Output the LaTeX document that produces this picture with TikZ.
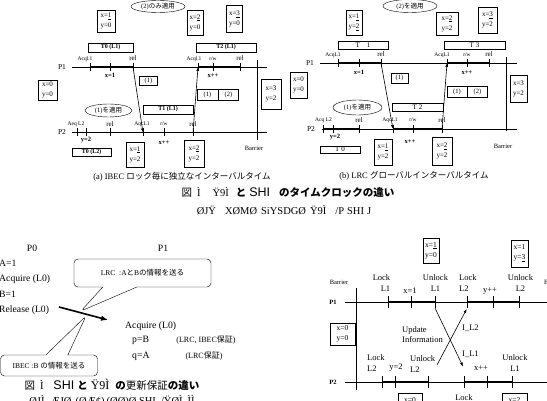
\documentclass[tikz,border=0pt]{standalone}
\usepackage{fontspec}
\setmainfont{Liberation Serif}
\newfontfamily\jp{Noto Sans CJK JP}
\newfontfamily\gsans{Liberation Sans}
\usetikzlibrary{arrows.meta,shapes.geometric,shapes.callouts}
\tikzset{
  vbox/.style={draw, align=center, inner sep=1pt, font=\fontsize{7}{10}\selectfont},
  tbox/.style={draw, inner sep=0pt, font=\bfseries\fontsize{6}{7}\selectfont},
  tboxb/.style={draw, inner sep=0pt, font=\fontsize{7}{7}\selectfont},
  sbox/.style={draw, inner sep=0pt, font=\fontsize{6.5}{7}\selectfont},
  oval/.style={draw, ellipse, inner sep=0pt, font=\fontsize{6.5}{7}\selectfont},
  lbl/.style={font=\fontsize{5.5}{6}\selectfont, inner sep=0pt},
  blbl/.style={font=\bfseries\fontsize{6.5}{7}\selectfont, inner sep=0pt},
  pname/.style={font=\fontsize{7.5}{8}\selectfont, inner sep=0pt},
  subcap/.style={font=\fontsize{8.5}{9}\selectfont, inner sep=0pt},
  figcap/.style={font=\fontsize{10.5}{11}\selectfont, inner sep=0pt},
  ptxt/.style={font=\fontsize{9.7}{11}\selectfont, inner sep=0pt},
  ntxt/.style={font=\fontsize{8}{9}\selectfont, inner sep=0pt},
  rlbl/.style={font=\fontsize{8.5}{10.5}\selectfont, inner sep=0pt},
  rbox/.style={draw, align=center, inner sep=1pt, font=\fontsize{7.5}{10}\selectfont},
  axisline/.style={line width=0.5pt},
  seg/.style={line width=1.4pt},
  tk/.style={line width=0.6pt},
  msg/.style={line width=0.6pt, -{Latex[length=4pt,width=3pt]}},
  bigarrow/.style={line width=1.6pt, -{Latex[length=7pt,width=5.5pt]}},
  callbox/.style={rectangle callout, draw, rounded corners=4pt, inner sep=0pt, line width=0.4pt},
}
\newcommand\tmark[4]{\coordinate (#1) at (#2,#3); \draw[tk] (#1) ++(0,-#4) -- ++(0,2*#4);}
\begin{document}
\begin{tikzpicture}[x=1pt,y=-1pt]
\useasboundingbox (0,0) rectangle (547,401);
\clip (0,0) rectangle (547,401);
\fill[white] (0,0) rectangle (547,401);

% ================= Panel (a) =================
\node[oval, minimum width=54, minimum height=12] (aov2) at (158,6.5) {(2)\jp のみ適用};
\node[vbox, minimum width=18, minimum height=22] (ab1) at (106,21) {x=\underline{1}\\y=0};
\node[vbox, minimum width=16, minimum height=25] (ab2) at (195,22.5) {x=\underline{2}\\y=0};
\node[vbox, minimum width=16, minimum height=27] (ab3) at (234.5,19) {x=\underline{3}\\y=0};
\node[tbox, minimum width=45, minimum height=9] (aT0) at (110.5,47.5) {T0 (L1)};
\node[tbox, minimum width=60, minimum height=9] (aT2) at (226,47.5) {T2 (L1)};

\draw[axisline] (72,67) -- (267,67);
\draw[seg] (90,67) -- (133,67);
\draw[seg] (198,67) -- (240,67);
\tmark{a1acq}{90}{67}{4} \tmark{a1x}{110}{67}{4} \tmark{a1rel}{133}{67}{4}
\tmark{a1acqb}{198}{67}{4} \tmark{a1rw}{213}{67}{4} \tmark{a1relb}{240}{67}{4}
\node[pname] (aP1) at (62,67) {P1};
\node[lbl] (la1) at (85,59) {Acql.1};
\node[lbl] (la2) at (133,58.5) {\fontsize{7}{7}\selectfont rel};
\node[lbl] (la3) at (194,59) {Acql.1};
\node[lbl] (la4) at (213,59) {r/w};
\node[lbl] (la5) at (240,58.5) {\fontsize{7}{7}\selectfont rel};
\node[blbl] (ax1) at (110,75.5) {x=1};
\node[blbl] (axpp) at (213,76) {x++};

\node[vbox, minimum width=19, minimum height=20] (ab00) at (47.5,90) {x=0\\y=0};
\node[sbox, minimum width=18, minimum height=9] (a1b) at (148.5,81) {(1)};
\node[sbox, minimum width=21, minimum height=11] (a12l) at (207.5,94.5) {(1)};
\node[sbox, minimum width=20, minimum height=11, anchor=west] (a12r) at (a12l.east) {(2)};
\node[vbox, minimum width=20, minimum height=30] (ab32) at (271,94) {x=3\\y=2};
\node[oval, minimum width=47, minimum height=13] (aov1) at (108.5,110.5) {(1)\jp を適用};
\node[tbox, minimum width=50, minimum height=9] (aT1) at (168,109.5) {T1 (L1)};

\draw[axisline] (72,132.5) -- (267,132.5);
\draw[seg] (77,132.5) -- (110,132.5);
\draw[seg] (143,132.5) -- (193,132.5);
\tmark{a2acq0}{77}{132.5}{4} \tmark{a2y}{86}{132.5}{4} \tmark{a2rel0}{110}{132.5}{4}
\tmark{a2acq}{143}{132.5}{4} \tmark{a2rw}{164}{132.5}{4} \tmark{a2relb}{193}{132.5}{4}
\node[pname] (aP2) at (62,132.5) {P2};
\node[lbl] (lb1) at (76,124) {Aeq L2};
\node[lbl] (lb2) at (110,124) {\fontsize{7}{7}\selectfont rel};
\node[lbl] (lb3) at (142,124) {AqcL1};
\node[lbl] (lb4) at (164,124) {r/w};
\node[lbl] (lb5) at (193,124) {\fontsize{7}{7}\selectfont rel};
\node[blbl] (ay2) at (86,140) {y=2};
\node[blbl] (axpp2) at (164,143) {x++};
\node[tbox, minimum width=39, minimum height=8] (aT0b) at (91.5,152) {T0 (L2)};
\node[vbox, minimum width=18, minimum height=25] (ab12) at (135,154.5) {x=\underline{1}\\y=2};
\node[vbox, minimum width=20, minimum height=27] (ab22) at (194,153.5) {x=\underline{2}\\y=2};

\coordinate (abarT) at (257,60); \coordinate (abarB) at (257,140);
\draw[axisline] (abarT) -- (abarB);
\node[lbl, font=\fontsize{6.5}{7}\selectfont] (abar) at (254,148) {Barrier};

\draw[msg] (a1rel) -- (a2acq);
\draw[msg] (a2relb) -- (a1acqb);

\node[subcap] (capa) at (182,177) {(a) IBEC {\jp ロック毎に独立なインターバルタイム}};

% ================= Panel (b) =================
\node[oval, minimum width=54, minimum height=13] (bov2) at (410,6) {(2)\jp を適用};
\node[vbox, minimum width=16, minimum height=25] (bb1) at (354,22.5) {x=\underline{1}\\y=\underline{2}};
\node[vbox, minimum width=22, minimum height=23] (bb2) at (447,23.5) {x=\underline{2}\\y=2};
\node[vbox, minimum width=19, minimum height=26] (bb3) at (487.5,20) {x=\underline{3}\\y=2};
\node[tboxb, minimum width=50, minimum height=8] (bT1) at (363,45) {T\quad 1};
\node[tboxb, minimum width=61, minimum height=8] (bT3) at (474.5,45) {T\ 3};

\draw[axisline] (320,63) -- (517,63);
\draw[seg] (338,63) -- (381,63);
\draw[seg] (447,63) -- (489,63);
\tmark{b1acq}{338}{63}{4} \tmark{b1x}{359}{63}{4} \tmark{b1rel}{381}{63}{4}
\tmark{b1acqb}{447}{63}{4} \tmark{b1rw}{467}{63}{4} \tmark{b1relb}{489}{63}{4}
\node[pname] (bP1) at (310,63) {P1};
\node[lbl] (lc1) at (333,55) {AcqL1};
\node[lbl] (lc2) at (381,54.5) {\fontsize{7}{7}\selectfont rel};
\node[lbl] (lc3) at (442,55) {AcqL1};
\node[lbl] (lc4) at (467,55) {r/w};
\node[lbl] (lc5) at (489,54.5) {\fontsize{7}{7}\selectfont rel};
\node[blbl] (bx1) at (359,72) {x=1};
\node[blbl] (bxpp) at (467,73) {x++};

\node[vbox, minimum width=17, minimum height=26] (bb00) at (298.5,85) {x=0\\y=0};
\node[sbox, minimum width=17, minimum height=10] (b1b) at (399.5,78) {(1)};
\node[sbox, minimum width=20, minimum height=11] (b12l) at (457,91.5) {(1)};
\node[sbox, minimum width=20, minimum height=11, anchor=west] (b12r) at (b12l.east) {(2)};
\node[vbox, minimum width=17, minimum height=27] (bb32) at (518.5,88.5) {x=3\\y=2};
\node[oval, minimum width=49, minimum height=15] (bov1) at (357.5,107.5) {(1)\jp を適用};
\node[tboxb, minimum width=51, minimum height=8] (bT2) at (417.5,107) {T 2};

\draw[axisline] (322,129) -- (517,129);
\draw[seg] (323,129) -- (359,129);
\draw[seg] (393,129) -- (442,129);
\tmark{b2acq0}{323}{129}{4} \tmark{b2y}{333}{129}{4} \tmark{b2rel0}{359}{129}{4}
\tmark{b2acq}{393}{129}{4} \tmark{b2rw}{413}{129}{4} \tmark{b2relb}{442}{129}{4}
\node[pname] (bP2) at (311,129) {P2};
\node[lbl] (ld1) at (323.5,120) {Acq L2};
\node[lbl] (ld2) at (359,120) {\fontsize{7}{7}\selectfont rel};
\node[lbl] (ld3) at (390,120) {AqcL1};
\node[lbl] (ld4) at (413,120) {r/w};
\node[lbl] (ld5) at (442,120) {\fontsize{7}{7}\selectfont rel};
\node[blbl] (by2) at (335,137) {y=2};
\node[blbl] (bxpp2) at (410,142) {x++};
\node[tboxb, minimum width=40, minimum height=7.5] (bT0) at (340,149.5) {T 0};
\node[vbox, minimum width=18, minimum height=26] (bb12) at (383,152) {x=\underline{1}\\y=2};
\node[vbox, minimum width=20, minimum height=28] (bb22) at (442,151) {x=\underline{2}\\y=2};

\coordinate (bbarT) at (506,57); \coordinate (bbarB) at (506,131);
\draw[axisline] (bbarT) -- (bbarB);
\node[lbl, font=\fontsize{6.5}{7}\selectfont] (bbar) at (503,146) {Barrier};

\draw[msg] (b1rel) -- (b2acq);
\draw[msg] (b2relb) -- (b1acqb);

\node[subcap] (capb) at (414,176) {(b) LRC {\jp グローバルインターバルタイム}};

% ================= Figure 1 caption =================
\node[figcap] (cap1a) at (288,193) {{\jp 図}\hspace{5pt}Ì\hspace{12pt}Ÿ9Ì\hspace{7pt}{\jp\bfseries と}\hspace{3pt}{\gsans\fontsize{12.5}{12}\selectfont SHI}\hspace{9pt}{\jp\bfseries のタイムクロックの違い}};
\node[figcap] (cap1b) at (284,210) {ØJŸ\hspace{9pt}XØMØ\hspace{4pt}SiYSDGØ\hspace{4pt}Ÿ9Ì\hspace{9pt}/P\hspace{3pt}SHI\hspace{3pt}J};

% ================= Bottom-left figure =================
\node[ptxt] (p0) at (32,248) {P0};
\node[ptxt] (p1) at (163,248) {P1};
\node[ptxt, anchor=west] (t1) at (-1,263) {A=1};
\node[ptxt, anchor=west] (t2) at (-1,279) {Acquire (L0)};
\node[ptxt, anchor=west] (t3) at (-1,294) {B=1};
\node[ptxt, anchor=west] (t4) at (-1,310) {Release (L0)};
\node[callbox, minimum width=137, minimum height=28, callout absolute pointer={(81,311)}, callout pointer width=34pt, font=\fontsize{7.5}{8}\selectfont] (co1) at (142.5,273) {LRC\ \ :A{\jp と}B{\jp の情報を送る}};
\node[callbox, minimum width=97, minimum height=21, callout absolute pointer={(86,316)}, callout pointer width=22pt, font=\fontsize{7.5}{8}\selectfont] (co2) at (49,365.5) {IBEC :B {\jp の情報を送る}};
\coordinate (baS) at (59,307); \coordinate (baE) at (108,320);
\draw[bigarrow] (baS) -- (baE);
\node[ptxt, anchor=west] (t5) at (125,326) {Acquire (L0)};
\node[ptxt, anchor=west] (t6) at (132,340) {p=B};
\node[ptxt, anchor=west] (t7) at (132,356) {q=A};
\node[ntxt] (t8) at (206,340) {(LRC, IBEC{\jp 保証})};
\node[ntxt] (t9) at (204,356) {(LRC{\jp 保証})};
\node[figcap] (cap2a) at (112,385) {{\jp 図}\hspace{5pt}Ì\hspace{10pt}{\gsans\fontsize{12.5}{12}\selectfont SHI}\hspace{3pt}{\jp\bfseries と}\hspace{3pt}{\fontsize{12}{12}\selectfont Ÿ9Ì}\hspace{6pt}{\jp\bfseries の}{\jp 更新保証}{\jp\bfseries の違い}};
\node[figcap] (cap2b) at (112,401) {ØJÌ\hspace{6pt}ÆJØ\hspace{4pt}(ØÆ¢)\hspace{2pt}(ØØ)Ø SHI\hspace{5pt}/ŸØÌ\hspace{5pt}ÌÌ};

% ================= Bottom-right figure =================
\node[rbox, minimum width=16, minimum height=25] (rb1) at (431,250.5) {x=\underline{1}\\y=0};
\node[rbox, minimum width=17, minimum height=27] (rb2) at (519.5,253.5) {x=1\\y=\underline{3}};
\node[lbl, font=\fontsize{6.5}{7}\selectfont] (rbar1) at (339,282) {Barrier};
\node[lbl, font=\fontsize{6.5}{7}\selectfont, anchor=west] (rbar2) at (544,282) {Barrier};
\coordinate (rbarT) at (356.7,288); \coordinate (rbarB) at (356.7,390);
\draw[axisline] (rbarT) -- (rbarB);

\draw[axisline] (345,302) -- (547,302);
\draw[seg] (388,302) -- (435,302);
\draw[seg] (467,302) -- (519,302);
\tmark{r1a}{388}{302}{6} \tmark{r1b}{411}{302}{6} \tmark{r1c}{435}{302}{6}
\tmark{r1d}{467}{302}{6} \tmark{r1e}{493}{302}{6} \tmark{r1f}{519}{302}{6}
\node[blbl] (rP1) at (333,302) {P1};
\node[rlbl, align=right] (r1l1) at (381.5,283) {Lock\\L1};
\node[rlbl] (r1l2) at (410,291) {x=1};
\node[rlbl, align=center] (r1l3) at (435.5,283) {Unlock\\L1};
\node[rlbl, align=left, anchor=west] (r1l4) at (459,283) {Lock\\L2};
\node[rlbl] (r1l5) at (490,291.5) {y++};
\node[rlbl, align=center] (r1l6) at (520.5,283) {Unlock\\L2};

\node[rbox, minimum width=25, minimum height=22] (rb00) at (342.5,334) {x=0\\y=0};
\node[rlbl, align=left, anchor=west] (rupd) at (402,334.5) {Update\\Information};
\node[rlbl, anchor=west] (ril2) at (462,328) {I\_L2};
\node[rlbl, anchor=west] (ril1) at (462,354) {I\_L1};

\draw[axisline] (345,382) -- (547,382);
\draw[seg] (382,382) -- (428,382);
\draw[seg] (464,382) -- (512,382);
\tmark{r2a}{382}{382}{6} \tmark{r2b}{395}{382}{6} \tmark{r2c}{428}{382}{6}
\tmark{r2d}{464}{382}{6} \tmark{r2e}{487}{382}{6} \tmark{r2f}{512}{382}{6}
\node[blbl] (rP2) at (333,382) {P2};
\node[rlbl, align=left, anchor=west] (r2l1) at (367,363) {Lock\\L2};
\node[rlbl] (r2l2) at (396,367.5) {y=2};
\node[rlbl, align=left, anchor=west] (r2l3) at (410,364) {Unlock\\L2};
\node[rlbl] (r2l4) at (481,368) {x++};
\node[rlbl, align=center] (r2l5) at (515,363) {Unlock\\L1};
\node[rlbl, align=center, anchor=north] (r2l6) at (464,394.5) {Lock\\L1};
\node[rbox, minimum width=24, minimum height=25, anchor=north] (rb3) at (410,393.3) {x=0\\y=2};
\node[rbox, minimum width=25, minimum height=25, anchor=north] (rb4) at (514.5,393.3) {x=\underline{2}\\y=2};

\coordinate (uA) at (435,308); \coordinate (uB) at (463,366.5);
\coordinate (vA) at (437,365); \coordinate (vB) at (466.7,309);
\draw[msg] (uA) -- (uB);
\draw[msg] (vA) -- (vB);
\end{tikzpicture}
\end{document}
